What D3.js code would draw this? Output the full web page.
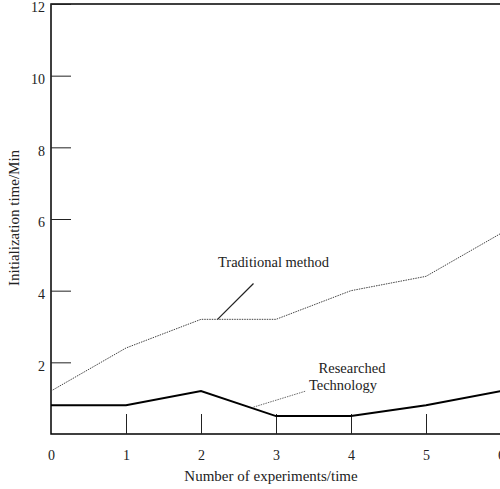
<!DOCTYPE html>
<html>
<head>
<meta charset="utf-8">
<script src="https://cdn.jsdelivr.net/npm/d3@7"></script>
<style>
  body { margin: 0; background: #fff; }
  svg { display: block; font-family: "Liberation Serif", "Times New Roman", serif; }
</style>
</head>
<body>
<svg></svg>
<script>
var width = 500;
var height = 489;

// data
var experiments = [0, 1, 2, 3, 4, 5, 6];
var traditional = [1.2, 2.4, 3.2, 3.2, 4.0, 4.4, 5.6];
var researched = [0.8, 0.8, 1.2, 0.5, 0.5, 0.8, 1.2];
var yTicks = [2, 4, 6, 8, 10, 12];
var xTickLines = [1, 2, 3, 4, 5];

var svg = d3.select('svg').attr('width', width).attr('height', height);

var x = d3.scaleLinear().domain([0, 6]).range([51, 501]);
var y = d3.scaleLinear().domain([0, 12]).range([434, 4]);

// frame
svg.append('path')
	.attr('d', 'M' + x(6) + ',' + y(12) + 'H' + x(0) + 'V' + y(0) + 'H' + x(6))
	.attr('fill', 'none')
	.attr('stroke', '#000')
	.attr('stroke-width', 1.5);

// y axis, ticks pointing inward
var yAxis = svg.append('g')
	.attr('transform', 'translate(' + x(0) + ',0)')
	.call(d3.axisLeft(y).tickValues(yTicks).tickFormat(d3.format('d')).tickSize(-20).tickPadding(6));
yAxis.select('.domain').remove();
yAxis.attr('font-family', null).attr('font-size', null);
yAxis.selectAll('line').attr('stroke', '#222');
yAxis.selectAll('text')
	.style('font-family', '"Liberation Serif", serif')
	.style('font-size', '14px')
	.attr('fill', '#222')
	.attr('dy', '0.55em');

// x axis: tick lines 1..5, labels 0..6
var xAxis = svg.append('g')
	.attr('transform', 'translate(0,' + y(0) + ')')
	.call(d3.axisBottom(x).tickValues(experiments).tickFormat(d3.format('d')).tickSize(-20).tickPadding(16));
xAxis.select('.domain').remove();
xAxis.attr('font-family', null).attr('font-size', null);
xAxis.selectAll('.tick line')
	.attr('stroke', '#222')
	.attr('opacity', function(d) { return xTickLines.indexOf(d) >= 0 ? 1 : 0; });
xAxis.selectAll('text')
	.style('font-family', '"Liberation Serif", serif')
	.style('font-size', '14px')
	.attr('fill', '#222');

// lines
var line = d3.line()
	.x(function(d, i) { return x(experiments[i]); })
	.y(function(d) { return y(d); });

svg.append('path')
	.datum(traditional)
	.attr('d', line)
	.attr('fill', 'none')
	.attr('stroke', '#444')
	.attr('stroke-width', 1)
	.attr('stroke-dasharray', '1.5,1');

svg.append('path')
	.datum(researched)
	.attr('d', line)
	.attr('fill', 'none')
	.attr('stroke', '#000')
	.attr('stroke-width', 2);

// annotations
svg.append('line')
	.attr('x1', x(2.22)).attr('y1', y(3.2))
	.attr('x2', x(2.7)).attr('y2', y(4.2))
	.attr('stroke', '#222')
	.attr('stroke-width', 1.2);

svg.append('text')
	.attr('x', 218).attr('y', 267)
	.style('font-size', '14.5px')
	.attr('fill', '#222')
	.text('Traditional method');

svg.append('line')
	.attr('x1', x(2.7)).attr('y1', y(0.75))
	.attr('x2', x(3.4)).attr('y2', y(1.2))
	.attr('stroke', '#444')
	.attr('stroke-width', 0.8)
	.attr('stroke-dasharray', '1.5,1');

svg.append('text')
	.attr('x', 352).attr('y', 373)
	.attr('text-anchor', 'middle')
	.style('font-size', '14.5px')
	.attr('fill', '#222')
	.text('Researched');

svg.append('text')
	.attr('x', 343).attr('y', 390)
	.attr('text-anchor', 'middle')
	.style('font-size', '14.5px')
	.attr('fill', '#222')
	.text('Technology');

// axis titles
svg.append('text')
	.attr('x', 271).attr('y', 481)
	.attr('text-anchor', 'middle')
	.style('font-size', '15px')
	.attr('fill', '#222')
	.text('Number of experiments/time');

svg.append('text')
	.attr('transform', 'translate(19,218) rotate(-90)')
	.attr('text-anchor', 'middle')
	.style('font-size', '15px')
	.attr('fill', '#222')
	.text('Initialization time/Min');
</script>
</body>
</html>
